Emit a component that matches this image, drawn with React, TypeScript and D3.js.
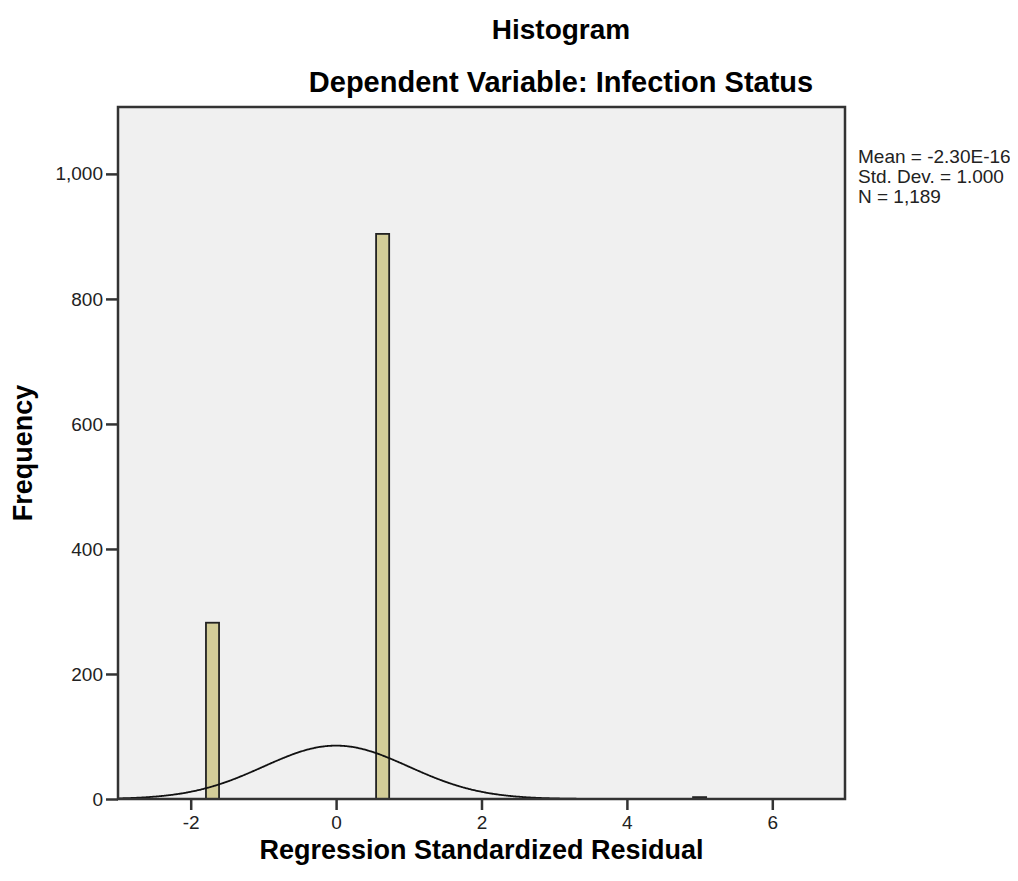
import { useEffect, useRef } from 'react';
import * as d3 from 'd3';

// histogram bins (left edge of each bin, count)
const binStarts = [-1.79, 0.55, 4.91];
const binCounts = [282, 904, 3];
const binWidth = 0.18;

const xTicks = [-2, 0, 2, 4, 6];
const yTicks = [0, 200, 400, 600, 800, 1000];

const statsLines = ['Mean = -2.30E-16', 'Std. Dev. = 1.000', 'N = 1,189'];
const mean = -2.3e-16;
const sd = 1;
const n = 1189;

function App() {
  const svgRef = useRef<SVGSVGElement>(null);

  useEffect(() => {
    const width = 1002;
    const height = 865;
    // svg sits inside the 8px body margin
    const margin = { left: 110, top: 99, right: 837, bottom: 791 };
    const font = '"Liberation Sans", Arial, sans-serif';

    d3.select(svgRef.current).selectAll('*').remove();
    const svg = d3.select(svgRef.current)
      .attr('width', width)
      .attr('height', height)
      .style('font-family', font);

    const x = d3.scaleLinear().domain([-3, 7]).range([margin.left, margin.right]);
    const y = d3.scaleLinear().domain([0, 1107]).range([margin.bottom, margin.top]);

    // plot background
    svg.append('rect')
      .attr('x', margin.left)
      .attr('y', margin.top)
      .attr('width', margin.right - margin.left)
      .attr('height', margin.bottom - margin.top)
      .attr('fill', '#f0f0f0');

    const bins = binStarts.map((s, i) => ({ x0: s, x1: s + binWidth, count: binCounts[i] }));

    svg.append('g')
      .selectAll('rect')
      .data(bins)
      .join('rect')
      .attr('x', d => x(d.x0))
      .attr('y', d => y(d.count))
      .attr('width', d => x(d.x1) - x(d.x0))
      .attr('height', d => y(0) - y(d.count))
      .attr('fill', '#d3cd98')
      .attr('stroke', '#222')
      .attr('stroke-width', 1.8);

    // normal curve from the stated mean / sd, scaled to counts
    const pts = d3.range(-3, 7.001, 0.02).map(v => [
      v,
      n * binWidth * Math.exp(-0.5 * ((v - mean) / sd) ** 2) / (sd * Math.sqrt(2 * Math.PI)),
    ]);
    svg.append('path')
      .datum(pts)
      .attr('fill', 'none')
      .attr('stroke', '#111')
      .attr('stroke-width', 1.8)
      .attr('d', d3.line<number[]>().x(d => x(d[0])).y(d => y(d[1])).curve(d3.curveBasis));

    // frame
    svg.append('rect')
      .attr('x', margin.left)
      .attr('y', margin.top)
      .attr('width', margin.right - margin.left)
      .attr('height', margin.bottom - margin.top)
      .attr('fill', 'none')
      .attr('stroke', '#333')
      .attr('stroke-width', 2.5);

    const xAxis = svg.append('g')
      .attr('transform', `translate(0, ${margin.bottom})`)
      .call(d3.axisBottom(x).tickValues(xTicks).tickSize(11).tickPadding(6).tickFormat(d => String(d)));
    const yAxis = svg.append('g')
      .attr('transform', `translate(${margin.left}, 0)`)
      .call(d3.axisLeft(y).tickValues(yTicks).tickSize(12).tickPadding(3).tickFormat(d3.format(',')));

    [xAxis, yAxis].forEach(g => {
      g.select('.domain').remove();
      g.selectAll('line').attr('stroke', '#333').attr('stroke-width', 2.5);
      g.selectAll('text')
        .attr('fill', '#222')
        .style('font-size', '19px')
        .style('font-family', font);
    });

    svg.append('text')
      .attr('x', 553)
      .attr('y', 31)
      .attr('text-anchor', 'middle')
      .style('font-size', '28px')
      .style('font-weight', 'bold')
      .text('Histogram');

    svg.append('text')
      .attr('x', 553)
      .attr('y', 84)
      .attr('text-anchor', 'middle')
      .style('font-size', '29px')
      .style('font-weight', 'bold')
      .text('Dependent Variable: Infection Status');

    svg.append('text')
      .attr('transform', `translate(24, ${(margin.top + margin.bottom) / 2}) rotate(-90)`)
      .attr('text-anchor', 'middle')
      .style('font-size', '27px')
      .style('font-weight', 'bold')
      .text('Frequency');

    svg.append('text')
      .attr('x', (margin.left + margin.right) / 2)
      .attr('y', 851)
      .attr('text-anchor', 'middle')
      .style('font-size', '27px')
      .style('font-weight', 'bold')
      .text('Regression Standardized Residual');

    svg.append('g')
      .selectAll('text')
      .data(statsLines)
      .join('text')
      .attr('x', 850)
      .attr('y', (d, i) => 155 + i * 20)
      .style('font-size', '19px')
      .attr('fill', '#222')
      .text(d => d);
  }, []);

  return <svg ref={svgRef} />;
}

export default App;
